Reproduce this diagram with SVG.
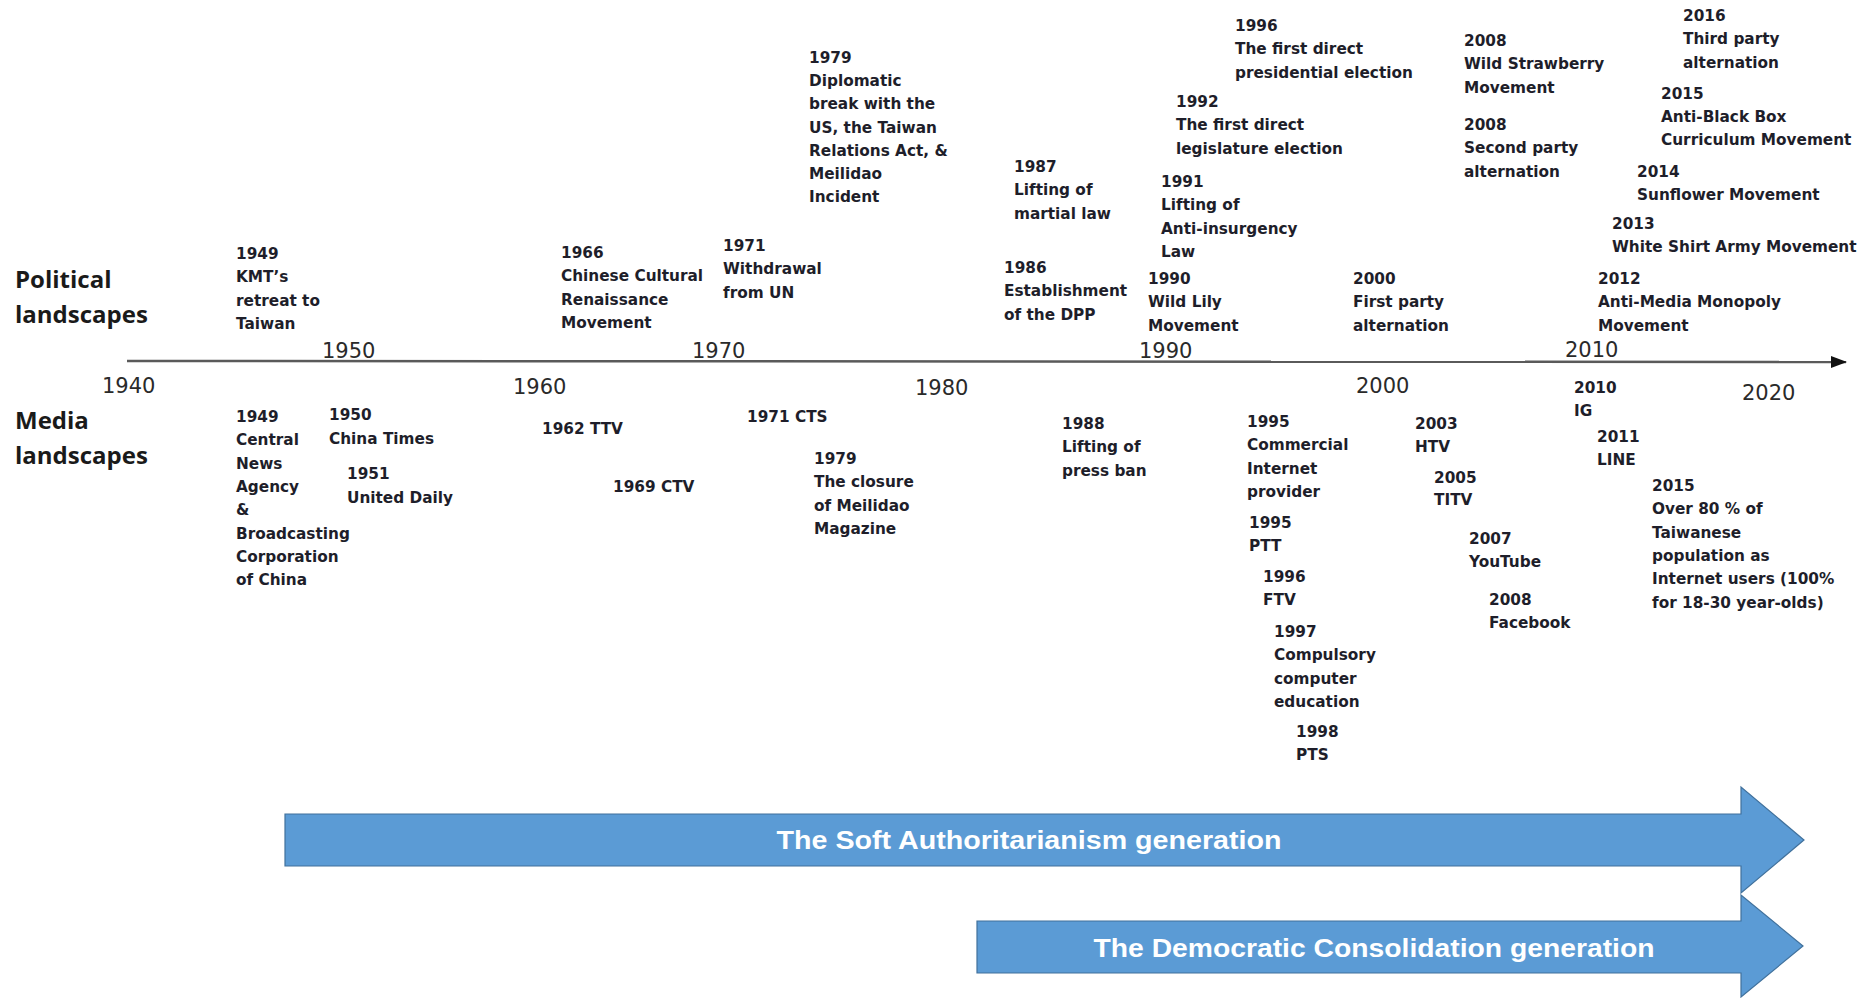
<svg xmlns="http://www.w3.org/2000/svg" width="1876" height="998" viewBox="0 0 1876 998">
<style>
.ev{font-family:"DejaVu Sans",Verdana,sans-serif;font-weight:bold;font-size:15.3px;fill:#1e1e2a}
.yr{font-family:"DejaVu Sans",Verdana,sans-serif;font-size:21px;fill:#2a2a2a}
.side{font-family:"Open Sans","Liberation Sans",sans-serif;font-weight:700;font-size:24px;fill:#1a1a1a}
.gen{font-family:"Liberation Sans",Arial,sans-serif;font-weight:bold;font-size:25px;fill:#ffffff}
.band{fill:#5B9BD5;stroke:#41719C;stroke-width:1.2}
</style>
<defs>
<marker id="axhead" markerWidth="16" markerHeight="12" refX="15" refY="6" orient="auto" markerUnits="userSpaceOnUse">
<path d="M0,0 L16,6 L0,12 Z" fill="#111"/>
</marker>
</defs>
<rect width="1876" height="998" fill="#ffffff"/>

<g id="connectors">
<line x1="127" y1="361" x2="1846" y2="362" stroke="#5a5a5a" stroke-width="2.5" marker-end="url(#axhead)"/>
</g>

<g id="side-labels">
<text class="side" x="15" y="288">Political</text>
<text class="side" x="15" y="323">landscapes</text>
<text class="side" x="15" y="429">Media</text>
<text class="side" x="15" y="464">landscapes</text>
</g>

<g id="year-labels">
<text class="yr" x="102" y="393">1940</text>
<text class="yr" x="322" y="358">1950</text>
<text class="yr" x="513" y="394">1960</text>
<text class="yr" x="692" y="358">1970</text>
<text class="yr" x="915" y="395">1980</text>
<text class="yr" x="1139" y="358">1990</text>
<text class="yr" x="1356" y="393">2000</text>
<text class="yr" x="1565" y="357">2010</text>
<text class="yr" x="1742" y="400">2020</text>
</g>

<g id="pol-1949"><text class="ev" x="236" y="259"><tspan x="236">1949</tspan><tspan x="236" dy="23.3">KMT’s</tspan><tspan x="236" dy="23.3">retreat to</tspan><tspan x="236" dy="23.3">Taiwan</tspan></text></g>
<g id="pol-1966"><text class="ev" x="561" y="258"><tspan x="561">1966</tspan><tspan x="561" dy="23.3">Chinese Cultural</tspan><tspan x="561" dy="23.3">Renaissance</tspan><tspan x="561" dy="23.3">Movement</tspan></text></g>
<g id="pol-1971"><text class="ev" x="723" y="251"><tspan x="723">1971</tspan><tspan x="723" dy="23.3">Withdrawal</tspan><tspan x="723" dy="23.3">from UN</tspan></text></g>
<g id="pol-1979"><text class="ev" x="809" y="63"><tspan x="809">1979</tspan><tspan x="809" dy="23.2">Diplomatic</tspan><tspan x="809" dy="23.2">break with the</tspan><tspan x="809" dy="23.2">US, the Taiwan</tspan><tspan x="809" dy="23.2">Relations Act, &amp;</tspan><tspan x="809" dy="23.2">Meilidao</tspan><tspan x="809" dy="23.2">Incident</tspan></text></g>
<g id="pol-1986"><text class="ev" x="1004" y="273"><tspan x="1004">1986</tspan><tspan x="1004" dy="23.3">Establishment</tspan><tspan x="1004" dy="23.3">of the DPP</tspan></text></g>
<g id="pol-1987"><text class="ev" x="1014" y="172"><tspan x="1014">1987</tspan><tspan x="1014" dy="23.3">Lifting of</tspan><tspan x="1014" dy="23.3">martial law</tspan></text></g>
<g id="pol-1990"><text class="ev" x="1148" y="284"><tspan x="1148">1990</tspan><tspan x="1148" dy="23.3">Wild Lily</tspan><tspan x="1148" dy="23.3">Movement</tspan></text></g>
<g id="pol-1991"><text class="ev" x="1161" y="187"><tspan x="1161">1991</tspan><tspan x="1161" dy="23.3">Lifting of</tspan><tspan x="1161" dy="23.3">Anti-insurgency</tspan><tspan x="1161" dy="23.3">Law</tspan></text></g>
<g id="pol-1992"><text class="ev" x="1176" y="107"><tspan x="1176">1992</tspan><tspan x="1176" dy="23.3">The first direct</tspan><tspan x="1176" dy="23.3">legislature election</tspan></text></g>
<g id="pol-1996"><text class="ev" x="1235" y="31"><tspan x="1235">1996</tspan><tspan x="1235" dy="23.3">The first direct</tspan><tspan x="1235" dy="23.3">presidential election</tspan></text></g>
<g id="pol-2000"><text class="ev" x="1353" y="284"><tspan x="1353">2000</tspan><tspan x="1353" dy="23.3">First party</tspan><tspan x="1353" dy="23.3">alternation</tspan></text></g>
<g id="pol-2008a"><text class="ev" x="1464" y="46"><tspan x="1464">2008</tspan><tspan x="1464" dy="23.3">Wild Strawberry</tspan><tspan x="1464" dy="23.3">Movement</tspan></text></g>
<g id="pol-2008b"><text class="ev" x="1464" y="130"><tspan x="1464">2008</tspan><tspan x="1464" dy="23.3">Second party</tspan><tspan x="1464" dy="23.3">alternation</tspan></text></g>
<g id="pol-2012"><text class="ev" x="1598" y="284"><tspan x="1598">2012</tspan><tspan x="1598" dy="23.3">Anti-Media Monopoly</tspan><tspan x="1598" dy="23.3">Movement</tspan></text></g>
<g id="pol-2013"><text class="ev" x="1612" y="229"><tspan x="1612">2013</tspan><tspan x="1612" dy="23.2">White Shirt Army Movement</tspan></text></g>
<g id="pol-2014"><text class="ev" x="1637" y="177"><tspan x="1637">2014</tspan><tspan x="1637" dy="23.3">Sunflower Movement</tspan></text></g>
<g id="pol-2015"><text class="ev" x="1661" y="99"><tspan x="1661">2015</tspan><tspan x="1661" dy="22.8">Anti-Black Box</tspan><tspan x="1661" dy="23.3">Curriculum Movement</tspan></text></g>
<g id="pol-2016"><text class="ev" x="1683" y="21"><tspan x="1683">2016</tspan><tspan x="1683" dy="23.3">Third party</tspan><tspan x="1683" dy="23.3">alternation</tspan></text></g>

<g id="med-1949"><text class="ev" x="236" y="422"><tspan x="236">1949</tspan><tspan x="236" dy="23.3">Central</tspan><tspan x="236" dy="23.3">News</tspan><tspan x="236" dy="23.3">Agency</tspan><tspan x="236" dy="23.3">&amp;</tspan><tspan x="236" dy="23.3">Broadcasting</tspan><tspan x="236" dy="23.3">Corporation</tspan><tspan x="236" dy="23.3">of China</tspan></text></g>
<g id="med-1950"><text class="ev" x="329" y="420"><tspan x="329">1950</tspan><tspan x="329" dy="23.8">China Times</tspan></text></g>
<g id="med-1951"><text class="ev" x="347" y="479"><tspan x="347">1951</tspan><tspan x="347" dy="23.6">United Daily</tspan></text></g>
<g id="med-1962"><text class="ev" x="542" y="434">1962 TTV</text></g>
<g id="med-1969"><text class="ev" x="613" y="492">1969 CTV</text></g>
<g id="med-1971"><text class="ev" x="747" y="422">1971 CTS</text></g>
<g id="med-1979"><text class="ev" x="814" y="464"><tspan x="814">1979</tspan><tspan x="814" dy="23.3">The closure</tspan><tspan x="814" dy="23.3">of Meilidao</tspan><tspan x="814" dy="23.3">Magazine</tspan></text></g>
<g id="med-1988"><text class="ev" x="1062" y="429"><tspan x="1062">1988</tspan><tspan x="1062" dy="23.3">Lifting of</tspan><tspan x="1062" dy="23.3">press ban</tspan></text></g>
<g id="med-1995a"><text class="ev" x="1247" y="427"><tspan x="1247">1995</tspan><tspan x="1247" dy="23.3">Commercial</tspan><tspan x="1247" dy="23.3">Internet</tspan><tspan x="1247" dy="23.3">provider</tspan></text></g>
<g id="med-1995b"><text class="ev" x="1249" y="528"><tspan x="1249">1995</tspan><tspan x="1249" dy="23.3">PTT</tspan></text></g>
<g id="med-1996"><text class="ev" x="1263" y="582"><tspan x="1263">1996</tspan><tspan x="1263" dy="23.3">FTV</tspan></text></g>
<g id="med-1997"><text class="ev" x="1274" y="637"><tspan x="1274">1997</tspan><tspan x="1274" dy="23.3">Compulsory</tspan><tspan x="1274" dy="23.3">computer</tspan><tspan x="1274" dy="23.3">education</tspan></text></g>
<g id="med-1998"><text class="ev" x="1296" y="737"><tspan x="1296">1998</tspan><tspan x="1296" dy="23.3">PTS</tspan></text></g>
<g id="med-2003"><text class="ev" x="1415" y="429"><tspan x="1415">2003</tspan><tspan x="1415" dy="23.3">HTV</tspan></text></g>
<g id="med-2005"><text class="ev" x="1434" y="483"><tspan x="1434">2005</tspan><tspan x="1434" dy="22">TITV</tspan></text></g>
<g id="med-2007"><text class="ev" x="1469" y="544"><tspan x="1469">2007</tspan><tspan x="1469" dy="23.3">YouTube</tspan></text></g>
<g id="med-2008"><text class="ev" x="1489" y="605"><tspan x="1489">2008</tspan><tspan x="1489" dy="23.3">Facebook</tspan></text></g>
<g id="med-2010"><text class="ev" x="1574" y="393"><tspan x="1574">2010</tspan><tspan x="1574" dy="23.3">IG</tspan></text></g>
<g id="med-2011"><text class="ev" x="1597" y="442"><tspan x="1597">2011</tspan><tspan x="1597" dy="23.3">LINE</tspan></text></g>
<g id="med-2015"><text class="ev" x="1652" y="491"><tspan x="1652">2015</tspan><tspan x="1652" dy="23.3">Over 80 % of</tspan><tspan x="1652" dy="23.3">Taiwanese</tspan><tspan x="1652" dy="23.3">population as</tspan><tspan x="1652" dy="23.3">Internet users (100%</tspan><tspan x="1652" dy="23.3">for 18-30 year-olds)</tspan></text></g>

<g id="gen-soft">
<path class="band" d="M285,814 L1741,814 L1741,787 L1804,840 L1741,893 L1741,866 L285,866 Z"/>
<text class="gen" x="1029" y="849" text-anchor="middle" textLength="505" lengthAdjust="spacingAndGlyphs">The Soft Authoritarianism generation</text>
</g>
<g id="gen-democratic">
<path class="band" d="M977,921 L1741,921 L1741,895 L1803,946 L1741,997 L1741,973 L977,973 Z"/>
<text class="gen" x="1374" y="957" text-anchor="middle" textLength="561" lengthAdjust="spacingAndGlyphs">The Democratic Consolidation generation</text>
</g>
</svg>
